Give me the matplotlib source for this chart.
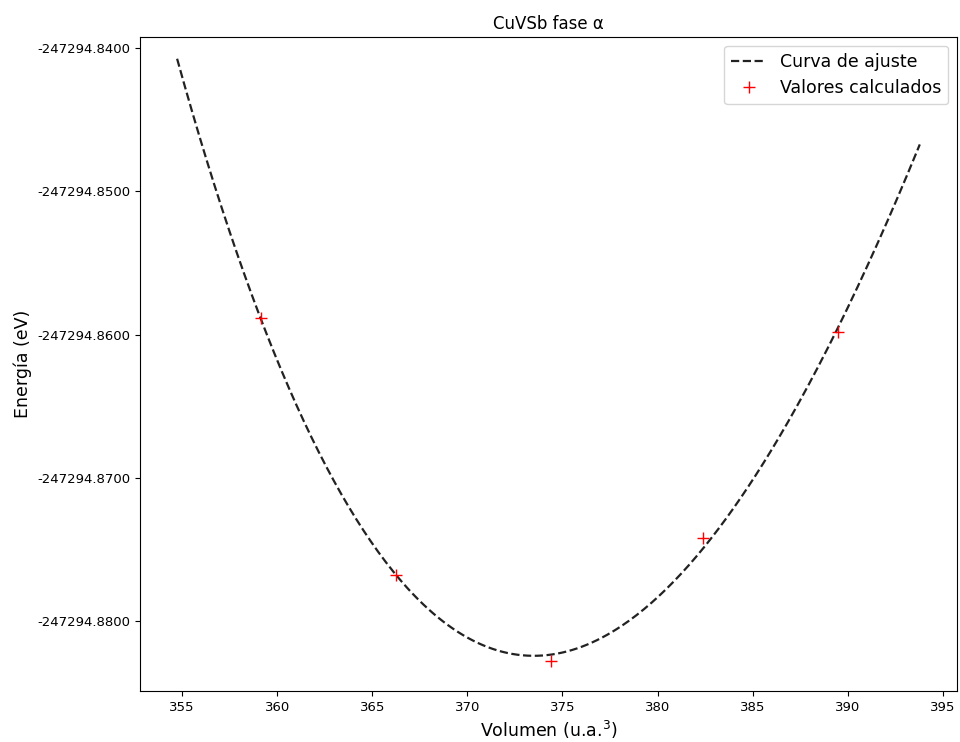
import matplotlib
matplotlib.use("Agg")
import matplotlib.pyplot as plt
import numpy as np
from matplotlib.ticker import FormatStrFormatter

# Calculated points: cell volume (u.a.^3) and total energy (eV)
volumen = [359.15, 366.23, 374.42, 382.40, 389.49]
energia = [-247294.858848, -247294.876789, -247294.882792, -247294.874206, -247294.859825]

# Range used to draw the fitted curve
v_min, v_max = 354.74, 393.79

# --- Fit: E quadratic in (V/Vref)^-2 ---
v = np.array(volumen)
e = np.array(energia)
e_ref = e.min()
v_ref = v.mean()
coefs = np.polyfit((v / v_ref) ** -2, e - e_ref, 2)
v_fit = np.linspace(v_min, v_max, 300)
e_fit = np.polyval(coefs, (v_fit / v_ref) ** -2) + e_ref

fig = plt.figure(figsize=(9.6, 7.42), dpi=100)
ax = fig.add_axes([0.1458, 0.0687, 0.8510, 0.8813])

ax.plot(v_fit, e_fit, "--", color="#222222", linewidth=1.6, label="Curva de ajuste")
ax.plot(volumen, energia, "r+", markersize=9, label="Valores calculados")

ax.yaxis.set_major_formatter(FormatStrFormatter("%.4f"))
ax.set_xticks(np.arange(355, 396, 5))
ax.tick_params(labelsize=9.5)
ax.set_ylim(-247294.884887, -247294.839230)

ax.set_title("CuVSb fase α", fontsize=12)
ax.set_xlabel("Volumen (u.a.$^3$)", fontsize=12.5)
ax.set_ylabel("Energía (eV)", fontsize=12.5)
ax.legend(loc="upper right", fontsize=12.5)

fig.savefig("out.png", dpi=100)
